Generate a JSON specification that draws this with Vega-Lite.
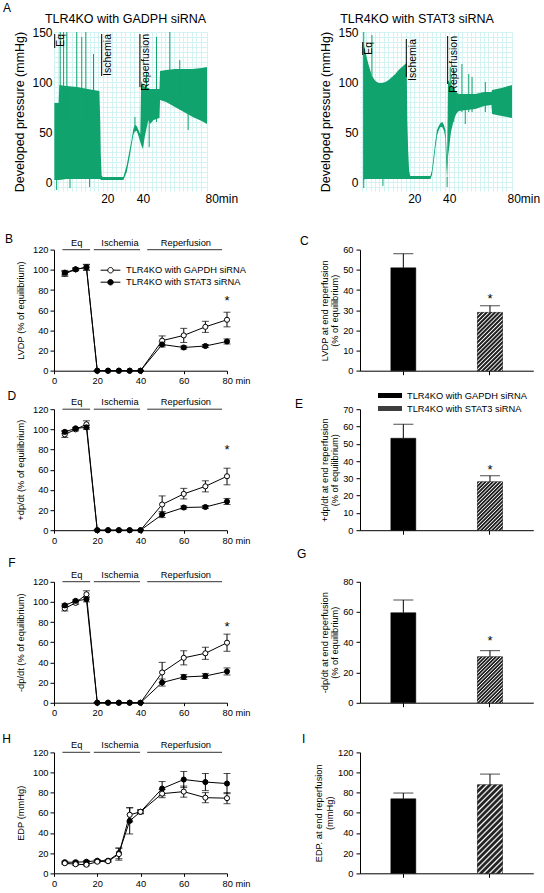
{
"$schema":"https://vega.github.io/schema/vega-lite/v6.json",
"padding":{"left":2,"top":2,"right":0,"bottom":0},
"title":{"text":"A","dx":-51,"dy":6.5},
"resolve":{"scale":{"fill":"independent"},"legend":{"fill":"independent"}},
"config":{
 "font":"Liberation Sans",
 "view":{"stroke":null},
 "axis":{"domainColor":"black","tickColor":"black","labelColor":"black","titleColor":"black","labelFontSize":9.3,"titleFontSize":9.3,"titleFontWeight":"normal","grid":false,"domainWidth":1,"tickWidth":1,"labelOverlap":false,"labelFlush":false},
 "title":{"fontSize":12,"font":"Liberation Sans","fontWeight":"normal","anchor":"start","frame":"group","color":"black","offset":0},
 "legend":{"labelFontSize":9.3,"labelColor":"black"},
 "text":{"color":"black","fontSize":9.3}
},
"datasets":{
 "traceL":[{"t":-9.8,"lo":2,"hi":79},{"t":-7.4,"lo":2,"hi":79},{"t":-7.0,"lo":2,"hi":97},{"t":-3,"lo":3,"hi":96},{"t":3,"lo":3,"hi":95},{"t":9,"lo":3,"hi":93},{"t":15.5,"lo":3,"hi":91},{"t":16.0,"lo":3,"hi":60},{"t":16.3,"lo":2,"hi":27},{"t":16.8,"lo":2,"hi":6},{"t":17.5,"lo":2,"hi":5},{"t":29,"lo":2,"hi":5},{"t":30.9,"lo":10,"hi":17},{"t":32.5,"lo":25,"hi":32},{"t":33.7,"lo":38,"hi":43},{"t":34.6,"lo":47,"hi":53},{"t":35.5,"lo":51,"hi":57},{"t":36.5,"lo":51,"hi":56},{"t":37.5,"lo":46,"hi":52},{"t":38.5,"lo":40,"hi":48},{"t":39.0,"lo":37,"hi":101},{"t":40,"lo":33,"hi":97},{"t":41,"lo":45,"hi":95},{"t":43,"lo":62,"hi":94},{"t":44,"lo":58,"hi":93},{"t":46,"lo":62,"hi":93},{"t":49.3,"lo":64,"hi":93},{"t":49.6,"lo":82,"hi":111},{"t":53,"lo":80,"hi":112},{"t":58,"lo":75,"hi":113},{"t":63,"lo":70,"hi":113},{"t":68,"lo":65,"hi":113},{"t":73,"lo":61,"hi":114},{"t":76,"lo":58,"hi":115}],
 "spikesL":[{"t":-8.5,"lo":-8,"hi":2},{"t":-6.5,"lo":60,"hi":150},{"t":-4.6,"lo":60,"hi":150},{"t":-2.8,"lo":60,"hi":150},{"t":2.8,"lo":60,"hi":150},{"t":5.6,"lo":60,"hi":145},{"t":7.9,"lo":60,"hi":150},{"t":12.2,"lo":60,"hi":128},{"t":-1,"lo":-6,"hi":3},{"t":10,"lo":-5,"hi":3},{"t":35.5,"lo":50,"hi":65},{"t":42,"lo":60,"hi":110},{"t":47.6,"lo":60,"hi":145},{"t":55.1,"lo":80,"hi":150},{"t":60.7,"lo":80,"hi":122},{"t":65.4,"lo":52,"hi":75},{"t":43.5,"lo":35,"hi":62}],
 "eventsL":[{"event":"Eq","t":-9.6,"top":148,"bottom":134},{"event":"Ischemia","t":16.8,"top":148,"bottom":106},{"event":"Reperfusion","t":38.3,"top":148,"bottom":95}],
 "traceR":[{"t":-9.2,"lo":2,"hi":140},{"t":-8.1,"lo":3,"hi":130},{"t":-6.2,"lo":3,"hi":117},{"t":-4.3,"lo":3,"hi":106},{"t":-2.3,"lo":3,"hi":101},{"t":-0.4,"lo":3,"hi":99},{"t":1.5,"lo":3,"hi":99},{"t":3.4,"lo":3,"hi":100},{"t":5.3,"lo":3,"hi":102},{"t":7.2,"lo":3,"hi":105},{"t":9.1,"lo":3,"hi":108},{"t":11,"lo":3,"hi":112},{"t":12.9,"lo":3,"hi":115},{"t":14.8,"lo":3,"hi":118},{"t":15.6,"lo":3,"hi":119},{"t":16.0,"lo":3,"hi":60},{"t":16.5,"lo":3,"hi":30},{"t":17.0,"lo":3,"hi":12},{"t":17.6,"lo":3,"hi":6},{"t":29.2,"lo":3,"hi":6},{"t":30.1,"lo":7,"hi":12},{"t":31,"lo":18,"hi":25},{"t":32,"lo":33,"hi":40},{"t":33,"lo":46,"hi":52},{"t":34,"lo":52,"hi":56},{"t":35,"lo":55,"hi":59},{"t":36,"lo":55,"hi":60},{"t":37,"lo":51,"hi":57},{"t":37.8,"lo":44,"hi":52},{"t":38.4,"lo":15,"hi":35},{"t":38.8,"lo":2,"hi":20},{"t":39.3,"lo":25,"hi":102},{"t":40,"lo":35,"hi":100},{"t":41,"lo":50,"hi":98},{"t":42.6,"lo":62,"hi":94},{"t":44,"lo":68,"hi":90},{"t":45.4,"lo":71,"hi":88},{"t":50,"lo":72,"hi":88},{"t":55,"lo":73,"hi":88},{"t":60,"lo":76,"hi":90},{"t":64.2,"lo":77,"hi":90},{"t":64.6,"lo":68,"hi":92},{"t":70,"lo":66,"hi":94},{"t":76,"lo":64,"hi":97}],
 "spikesR":[{"t":-9.0,"lo":-6,"hi":150},{"t":-4.3,"lo":90,"hi":147},{"t":2,"lo":-4,"hi":3},{"t":40.6,"lo":60,"hi":115},{"t":42.6,"lo":60,"hi":112},{"t":47.3,"lo":70,"hi":118},{"t":49.2,"lo":58,"hi":75},{"t":51.2,"lo":70,"hi":108},{"t":53.1,"lo":70,"hi":105},{"t":60.7,"lo":70,"hi":100},{"t":38.8,"lo":-5,"hi":5}],
 "eventsR":[{"event":"Eq","t":-9.6,"top":140,"bottom":127},{"event":"Ischemia","t":15.4,"top":143,"bottom":105},{"event":"Reperfusion","t":39.1,"top":146,"bottom":98}],
 "phases":[{"phase":"Eq","start":3.9,"end":16.7,"mid":10.5},{"phase":"Ischemia","start":18.4,"end":39.8,"mid":30.5},{"phase":"Reperfusion","start":43.1,"end":77.7,"mid":61}],
 "lvdp":[
  {"g":"TLR4KO with GAPDH siRNA","t":5,"v":96,"lo":93.5,"hi":98.5},{"g":"TLR4KO with GAPDH siRNA","t":10,"v":100.5,"lo":99,"hi":102},{"g":"TLR4KO with GAPDH siRNA","t":15,"v":102.5,"lo":99.5,"hi":105.5},{"g":"TLR4KO with GAPDH siRNA","t":20,"v":0,"lo":0,"hi":0},{"g":"TLR4KO with GAPDH siRNA","t":25,"v":0,"lo":0,"hi":0},{"g":"TLR4KO with GAPDH siRNA","t":30,"v":0,"lo":0,"hi":0},{"g":"TLR4KO with GAPDH siRNA","t":35,"v":0,"lo":0,"hi":0},{"g":"TLR4KO with GAPDH siRNA","t":40,"v":0,"lo":0,"hi":0},{"g":"TLR4KO with GAPDH siRNA","t":50,"v":29.8,"lo":25,"hi":34.5},{"g":"TLR4KO with GAPDH siRNA","t":60,"v":35,"lo":28,"hi":42},{"g":"TLR4KO with GAPDH siRNA","t":70,"v":43.5,"lo":38,"hi":49},{"g":"TLR4KO with GAPDH siRNA","t":80,"v":50.5,"lo":43.5,"hi":58},
  {"g":"TLR4KO with STAT3 siRNA","t":5,"v":97.2,"lo":95,"hi":99.5},{"g":"TLR4KO with STAT3 siRNA","t":10,"v":100.5,"lo":99.5,"hi":101.5},{"g":"TLR4KO with STAT3 siRNA","t":15,"v":102.5,"lo":100,"hi":105},{"g":"TLR4KO with STAT3 siRNA","t":20,"v":0,"lo":0,"hi":0},{"g":"TLR4KO with STAT3 siRNA","t":25,"v":0,"lo":0,"hi":0},{"g":"TLR4KO with STAT3 siRNA","t":30,"v":0,"lo":0,"hi":0},{"g":"TLR4KO with STAT3 siRNA","t":35,"v":0,"lo":0,"hi":0},{"g":"TLR4KO with STAT3 siRNA","t":40,"v":0,"lo":0,"hi":0},{"g":"TLR4KO with STAT3 siRNA","t":50,"v":26,"lo":23.5,"hi":28.5},{"g":"TLR4KO with STAT3 siRNA","t":60,"v":23,"lo":21.5,"hi":24.5},{"g":"TLR4KO with STAT3 siRNA","t":70,"v":24.5,"lo":23,"hi":26},{"g":"TLR4KO with STAT3 siRNA","t":80,"v":29,"lo":26.5,"hi":31.5}],
 "pdpdt":[
  {"g":"TLR4KO with GAPDH siRNA","t":5,"v":95,"lo":92,"hi":98},{"g":"TLR4KO with GAPDH siRNA","t":10,"v":100,"lo":98.5,"hi":101.5},{"g":"TLR4KO with GAPDH siRNA","t":15,"v":105,"lo":101.5,"hi":108.5},{"g":"TLR4KO with GAPDH siRNA","t":20,"v":0,"lo":0,"hi":0},{"g":"TLR4KO with GAPDH siRNA","t":25,"v":0,"lo":0,"hi":0},{"g":"TLR4KO with GAPDH siRNA","t":30,"v":0,"lo":0,"hi":0},{"g":"TLR4KO with GAPDH siRNA","t":35,"v":0,"lo":0,"hi":0},{"g":"TLR4KO with GAPDH siRNA","t":40,"v":0,"lo":0,"hi":0},{"g":"TLR4KO with GAPDH siRNA","t":50,"v":25.5,"lo":17,"hi":34},{"g":"TLR4KO with GAPDH siRNA","t":60,"v":36,"lo":31,"hi":41.5},{"g":"TLR4KO with GAPDH siRNA","t":70,"v":43.5,"lo":38,"hi":49},{"g":"TLR4KO with GAPDH siRNA","t":80,"v":53.5,"lo":45,"hi":61.5},
  {"g":"TLR4KO with STAT3 siRNA","t":5,"v":97.5,"lo":96,"hi":99},{"g":"TLR4KO with STAT3 siRNA","t":10,"v":101,"lo":100,"hi":102},{"g":"TLR4KO with STAT3 siRNA","t":15,"v":102,"lo":100,"hi":104},{"g":"TLR4KO with STAT3 siRNA","t":20,"v":0,"lo":0,"hi":0},{"g":"TLR4KO with STAT3 siRNA","t":25,"v":0,"lo":0,"hi":0},{"g":"TLR4KO with STAT3 siRNA","t":30,"v":0,"lo":0,"hi":0},{"g":"TLR4KO with STAT3 siRNA","t":35,"v":0,"lo":0,"hi":0},{"g":"TLR4KO with STAT3 siRNA","t":40,"v":0,"lo":0,"hi":0},{"g":"TLR4KO with STAT3 siRNA","t":50,"v":15.5,"lo":12.5,"hi":18.5},{"g":"TLR4KO with STAT3 siRNA","t":60,"v":22.5,"lo":21,"hi":24},{"g":"TLR4KO with STAT3 siRNA","t":70,"v":23,"lo":21.5,"hi":24.5},{"g":"TLR4KO with STAT3 siRNA","t":80,"v":28.5,"lo":25.5,"hi":31.5}],
 "mdpdt":[
  {"g":"TLR4KO with GAPDH siRNA","t":5,"v":93.5,"lo":91,"hi":96},{"g":"TLR4KO with GAPDH siRNA","t":10,"v":99,"lo":97.5,"hi":100.5},{"g":"TLR4KO with GAPDH siRNA","t":15,"v":107.5,"lo":104,"hi":111},{"g":"TLR4KO with GAPDH siRNA","t":20,"v":0,"lo":0,"hi":0},{"g":"TLR4KO with GAPDH siRNA","t":25,"v":0,"lo":0,"hi":0},{"g":"TLR4KO with GAPDH siRNA","t":30,"v":0,"lo":0,"hi":0},{"g":"TLR4KO with GAPDH siRNA","t":35,"v":0,"lo":0,"hi":0},{"g":"TLR4KO with GAPDH siRNA","t":40,"v":0,"lo":0,"hi":0},{"g":"TLR4KO with GAPDH siRNA","t":50,"v":30,"lo":20,"hi":40},{"g":"TLR4KO with GAPDH siRNA","t":60,"v":44.5,"lo":37.5,"hi":51.5},{"g":"TLR4KO with GAPDH siRNA","t":70,"v":49,"lo":43,"hi":55},{"g":"TLR4KO with GAPDH siRNA","t":80,"v":59.5,"lo":51,"hi":68},
  {"g":"TLR4KO with STAT3 siRNA","t":5,"v":96.5,"lo":95,"hi":98},{"g":"TLR4KO with STAT3 siRNA","t":10,"v":101,"lo":100,"hi":102},{"g":"TLR4KO with STAT3 siRNA","t":15,"v":102.5,"lo":100,"hi":105},{"g":"TLR4KO with STAT3 siRNA","t":20,"v":0,"lo":0,"hi":0},{"g":"TLR4KO with STAT3 siRNA","t":25,"v":0,"lo":0,"hi":0},{"g":"TLR4KO with STAT3 siRNA","t":30,"v":0,"lo":0,"hi":0},{"g":"TLR4KO with STAT3 siRNA","t":35,"v":0,"lo":0,"hi":0},{"g":"TLR4KO with STAT3 siRNA","t":40,"v":0,"lo":0,"hi":0},{"g":"TLR4KO with STAT3 siRNA","t":50,"v":20,"lo":16.5,"hi":23.5},{"g":"TLR4KO with STAT3 siRNA","t":60,"v":25.5,"lo":23,"hi":28},{"g":"TLR4KO with STAT3 siRNA","t":70,"v":26.5,"lo":24,"hi":29},{"g":"TLR4KO with STAT3 siRNA","t":80,"v":31,"lo":27.5,"hi":34.5}],
 "edp":[
  {"g":"TLR4KO with STAT3 siRNA","t":5,"v":11,"lo":10,"hi":12},{"g":"TLR4KO with STAT3 siRNA","t":10,"v":11,"lo":10,"hi":12},{"g":"TLR4KO with STAT3 siRNA","t":15,"v":11.5,"lo":10.5,"hi":12.5},{"g":"TLR4KO with STAT3 siRNA","t":20,"v":12.5,"lo":11.5,"hi":13.5},{"g":"TLR4KO with STAT3 siRNA","t":25,"v":12.5,"lo":11.5,"hi":13.5},{"g":"TLR4KO with STAT3 siRNA","t":30,"v":20,"lo":14.5,"hi":25},{"g":"TLR4KO with STAT3 siRNA","t":35,"v":52,"lo":39,"hi":65},{"g":"TLR4KO with STAT3 siRNA","t":40,"v":61,"lo":59.5,"hi":62.5},{"g":"TLR4KO with STAT3 siRNA","t":50,"v":84,"lo":77,"hi":91},{"g":"TLR4KO with STAT3 siRNA","t":60,"v":93,"lo":85,"hi":101},{"g":"TLR4KO with STAT3 siRNA","t":70,"v":90.5,"lo":82,"hi":99},{"g":"TLR4KO with STAT3 siRNA","t":80,"v":89,"lo":79,"hi":99},
  {"g":"TLR4KO with GAPDH siRNA","t":5,"v":10,"lo":9,"hi":11},{"g":"TLR4KO with GAPDH siRNA","t":10,"v":9,"lo":8,"hi":10},{"g":"TLR4KO with GAPDH siRNA","t":15,"v":8.5,"lo":7.5,"hi":9.5},{"g":"TLR4KO with GAPDH siRNA","t":20,"v":11.5,"lo":10.5,"hi":12.5},{"g":"TLR4KO with GAPDH siRNA","t":25,"v":12,"lo":11,"hi":13},{"g":"TLR4KO with GAPDH siRNA","t":30,"v":19,"lo":13,"hi":25},{"g":"TLR4KO with GAPDH siRNA","t":35,"v":58,"lo":51,"hi":65},{"g":"TLR4KO with GAPDH siRNA","t":40,"v":61,"lo":59,"hi":63},{"g":"TLR4KO with GAPDH siRNA","t":50,"v":79,"lo":75,"hi":83},{"g":"TLR4KO with GAPDH siRNA","t":60,"v":81,"lo":75.5,"hi":86.5},{"g":"TLR4KO with GAPDH siRNA","t":70,"v":75,"lo":70,"hi":80},{"g":"TLR4KO with GAPDH siRNA","t":80,"v":74.5,"lo":69,"hi":80}],
 "starB":[{"t":80,"y":72}],
 "starD":[{"t":80,"y":83}],
 "starF":[{"t":80,"y":78}],
 "barC":[{"g":"TLR4KO with GAPDH siRNA","v":51,"hi":58},{"g":"TLR4KO with STAT3 siRNA","v":28.9,"hi":32.2}],
 "barE":[{"g":"TLR4KO with GAPDH siRNA","v":53.2,"hi":61.3},{"g":"TLR4KO with STAT3 siRNA","v":28,"hi":31.5}],
 "barG":[{"g":"TLR4KO with GAPDH siRNA","v":59.5,"hi":67.9},{"g":"TLR4KO with STAT3 siRNA","v":30.4,"hi":34.4}],
 "barI":[{"g":"TLR4KO with GAPDH siRNA","v":73.9,"hi":79.6},{"g":"TLR4KO with STAT3 siRNA","v":87.8,"hi":98.4}],
 "starC":[{"g":"TLR4KO with STAT3 siRNA","y":37}],
 "starE":[{"g":"TLR4KO with STAT3 siRNA","y":36.7}],
 "starG":[{"g":"TLR4KO with STAT3 siRNA","y":43}]
},
"columns":2,
"spacing":{"row":37.6,"column":133},
"bounds":"flush",
"concat":[
  {"width":153,"height":159,
   "title":{"text":"TLR4KO with GADPH siRNA","anchor":"middle","dx":-5,"offset":1,"fontSize":12.5},
   "resolve":{"axis":{"x":"independent","y":"independent"}},
   "layer":[
    {"data":{"name":"traceL"},"mark":{"type":"area","color":"#10a36d","opacity":1},
     "encoding":{
      "x":{"field":"t","type":"quantitative","scale":{"domain":[-10,76],"nice":false,"zero":false},
       "axis":{"values":[20,40,76],"labelExpr":"datum.value == 76 ? '80min' : datum.label","grid":false,"ticks":false,"domain":false,"labelFontSize":12,"labelPadding":2,"labelAlign":{"condition":{"test":"datum.value == 76","value":"left"},"value":"center"},"labelOffset":{"condition":{"test":"datum.value == 76","value":-2},"value":0},"title":null,"orient":"bottom"}},
      "y":{"field":"lo","type":"quantitative","scale":{"domain":[-9,150],"nice":false,"zero":false},
       "axis":{"values":[0,50,100,150],"grid":false,"ticks":false,"domain":false,"labelFontSize":12,"labelPadding":2,"title":"Developed pressure  (mmHg)","titleFontSize":12.5,"titlePadding":5,"orient":"left"}},
      "y2":{"field":"hi"}}},
    {"data":{"name":"spikesL"},"mark":{"type":"rule","color":"#10a36d","strokeWidth":1},
     "encoding":{"x":{"field":"t","type":"quantitative","scale":{"domain":[-10,76],"nice":false,"zero":false},"axis":{"values":[-10,-7.5,-5,-2.5,0,2.5,5,7.5,10,12.5,15,17.5,20,22.5,25,27.5,30,32.5,35,37.5,40,42.5,45,47.5,50,52.5,55,57.5,60,62.5,65,67.5,70,72.5,76],"labels":false,"ticks":false,"domain":false,"grid":true,"gridColor":"#d3f2f2","gridWidth":1,"title":null,"orient":"bottom"}},"y":{"field":"lo","type":"quantitative","scale":{"domain":[-9,150],"nice":false,"zero":false},"axis":{"values":[-5,0,5,10,15,20,25,30,35,40,45,50,55,60,65,70,75,80,85,90,95,100,105,110,115,120,125,130,135,140,145,150],"labels":false,"ticks":false,"domain":false,"grid":true,"gridColor":"#d3f2f2","gridWidth":1,"title":null,"orient":"left"}},"y2":{"field":"hi"}}},
    {"data":{"name":"eventsL"},"mark":{"type":"rule","color":"black","strokeWidth":1},
     "encoding":{"x":{"field":"t","type":"quantitative","scale":{"domain":[-10,76],"nice":false,"zero":false},"axis":null},"y":{"field":"top","type":"quantitative","scale":{"domain":[-9,150],"nice":false,"zero":false},"axis":null},"y2":{"field":"bottom"}}},
    {"data":{"name":"eventsL"},"mark":{"type":"text","angle":270,"align":"right","baseline":"top","fontSize":10.5,"dy":1.5},
     "encoding":{"x":{"field":"t","type":"quantitative","scale":{"domain":[-10,76],"nice":false,"zero":false},"axis":null},"y":{"field":"top","type":"quantitative","scale":{"domain":[-9,150],"nice":false,"zero":false},"axis":null},"text":{"field":"event"}}}
   ]},
  {"width":152,"height":159,
   "title":{"text":"TLR4KO with STAT3 siRNA","anchor":"middle","dx":-19,"offset":1,"fontSize":12.5},
   "resolve":{"axis":{"x":"independent","y":"independent"}},
   "layer":[
    {"data":{"name":"traceR"},"mark":{"type":"area","color":"#10a36d","opacity":1},
     "encoding":{
      "x":{"field":"t","type":"quantitative","scale":{"domain":[-11.15,76],"nice":false,"zero":false},
       "axis":{"values":[20,40,76],"labelExpr":"datum.value == 76 ? '80min' : datum.label","grid":false,"ticks":false,"domain":false,"labelFontSize":12,"labelPadding":2,"labelAlign":{"condition":{"test":"datum.value == 76","value":"left"},"value":"center"},"labelOffset":{"condition":{"test":"datum.value == 76","value":-5},"value":0},"title":null,"orient":"bottom"}},
      "y":{"field":"lo","type":"quantitative","scale":{"domain":[-9,150],"nice":false,"zero":false},
       "axis":{"values":[0,50,100,150],"grid":false,"ticks":false,"domain":false,"labelFontSize":12,"labelPadding":2,"title":"Developed pressure (mmHg)","titleFontSize":12.5,"titlePadding":5,"orient":"left"}},
      "y2":{"field":"hi"}}},
    {"data":{"name":"spikesR"},"mark":{"type":"rule","color":"#10a36d","strokeWidth":1},
     "encoding":{"x":{"field":"t","type":"quantitative","scale":{"domain":[-11.15,76],"nice":false,"zero":false},"axis":{"values":[-10,-7.5,-5,-2.5,0,2.5,5,7.5,10,12.5,15,17.5,20,22.5,25,27.5,30,32.5,35,37.5,40,42.5,45,47.5,50,52.5,55,57.5,60,62.5,65,67.5,70,72.5,76],"labels":false,"ticks":false,"domain":false,"grid":true,"gridColor":"#d3f2f2","gridWidth":1,"title":null,"orient":"bottom"}},"y":{"field":"lo","type":"quantitative","scale":{"domain":[-9,150],"nice":false,"zero":false},"axis":{"values":[-5,0,5,10,15,20,25,30,35,40,45,50,55,60,65,70,75,80,85,90,95,100,105,110,115,120,125,130,135,140,145,150],"labels":false,"ticks":false,"domain":false,"grid":true,"gridColor":"#d3f2f2","gridWidth":1,"title":null,"orient":"left"}},"y2":{"field":"hi"}}},
    {"data":{"name":"eventsR"},"mark":{"type":"rule","color":"black","strokeWidth":1},
     "encoding":{"x":{"field":"t","type":"quantitative","scale":{"domain":[-11.15,76],"nice":false,"zero":false},"axis":null},"y":{"field":"top","type":"quantitative","scale":{"domain":[-9,150],"nice":false,"zero":false},"axis":null},"y2":{"field":"bottom"}}},
    {"data":{"name":"eventsR"},"mark":{"type":"text","angle":270,"align":"right","baseline":"top","fontSize":10.5,"dy":1.5},
     "encoding":{"x":{"field":"t","type":"quantitative","scale":{"domain":[-11.15,76],"nice":false,"zero":false},"axis":null},"y":{"field":"top","type":"quantitative","scale":{"domain":[-9,150],"nice":false,"zero":false},"axis":null},"text":{"field":"event"}}}
   ]},
  {"width":173,"height":142.1,"title":{"text":"B","dx":-49,"dy":21.3},
   "resolve":{"axis":{"x":"independent","y":"independent"}},
   "layer":[
    {"data":{"name":"phases"},"mark":{"type":"rule","color":"#333333","strokeWidth":1},"encoding":{"x":{"field":"start","type":"quantitative","scale":{"domain":[0,80],"nice":false,"zero":false},"axis":null},"x2":{"field":"end"},"y":{"datum":120,"type":"quantitative","scale":{"domain":[0,120],"nice":false,"zero":false,"range":[142.1,21.1]},"axis":null}}},
    {"data":{"name":"phases"},"mark":{"type":"text","baseline":"bottom","dy":-2},"encoding":{"x":{"field":"mid","type":"quantitative","scale":{"domain":[0,80],"nice":false,"zero":false},"axis":null},"y":{"datum":120,"type":"quantitative","scale":{"domain":[0,120],"nice":false,"zero":false,"range":[142.1,21.1]},"axis":null},"text":{"field":"phase"}}},
    {"data":{"name":"lvdp"},"mark":{"type":"rule","color":"black","strokeWidth":1},"encoding":{"x":{"field":"t","type":"quantitative","scale":{"domain":[0,80],"nice":false,"zero":false},"axis":{"values":[0,20,40,60,80],"title":null,"labelExpr":"datum.value == 80 ? '80 min' : datum.label","labelAlign":{"condition":{"test":"datum.value == 80","value":"left"},"value":"center"},"labelOffset":{"condition":{"test":"datum.value == 80","value":-5},"value":0},"tickSize":3,"labelPadding":3,"orient":"bottom"}},"y":{"field":"lo","type":"quantitative","scale":{"domain":[0,120],"nice":false,"zero":false,"range":[142.1,21.1]},"axis":{"values":[0,20,40,60,80,100,120],"title":"LVDP (% of equilibrium)","titlePadding":7,"tickSize":4,"labelPadding":2,"orient":"left"}},"y2":{"field":"hi"}}},
    {"data":{"name":"lvdp"},"mark":{"type":"tick","orient":"horizontal","size":7,"thickness":1,"color":"black"},"encoding":{"x":{"field":"t","type":"quantitative","scale":{"domain":[0,80],"nice":false,"zero":false},"axis":null},"y":{"field":"hi","type":"quantitative","scale":{"domain":[0,120],"nice":false,"zero":false,"range":[142.1,21.1]},"axis":null}}},
    {"data":{"name":"lvdp"},"mark":{"type":"tick","orient":"horizontal","size":7,"thickness":1,"color":"black"},"encoding":{"x":{"field":"t","type":"quantitative","scale":{"domain":[0,80],"nice":false,"zero":false},"axis":null},"y":{"field":"lo","type":"quantitative","scale":{"domain":[0,120],"nice":false,"zero":false,"range":[142.1,21.1]},"axis":null}}},
    {"data":{"name":"lvdp"},"mark":{"type":"line","color":"black","strokeWidth":1},"encoding":{"x":{"field":"t","type":"quantitative","scale":{"domain":[0,80],"nice":false,"zero":false},"axis":null},"y":{"field":"v","type":"quantitative","scale":{"domain":[0,120],"nice":false,"zero":false,"range":[142.1,21.1]},"axis":null},"detail":{"field":"g","type":"nominal"}}},
    {"data":{"name":"lvdp"},"mark":{"type":"point","shape":"circle","size":26,"filled":true,"stroke":"black","strokeWidth":1,"opacity":1},"encoding":{"x":{"field":"t","type":"quantitative","scale":{"domain":[0,80],"nice":false,"zero":false},"axis":null},"y":{"field":"v","type":"quantitative","scale":{"domain":[0,120],"nice":false,"zero":false,"range":[142.1,21.1]},"axis":null},"fill":{"field":"g","type":"nominal","scale":{"domain":["TLR4KO with GAPDH siRNA","TLR4KO with STAT3 siRNA"],"range":["#ffffff","#000000"]},"legend":{"orient":"none","legendX":50.5,"legendY":35.6,"title":null,"symbolType":"M-1.8,0H-0.5A0.5,0.5 0 1,1 0.5,0A0.5,0.5 0 1,1 -0.5,0M0.5,0H1.8","symbolSize":121,"symbolStrokeColor":"black","symbolStrokeWidth":1,"labelFontSize":9.3,"labelColor":"black","labelOffset":9.5,"rowPadding":0,"padding":0}}}},
    {"data":{"name":"starB"},"mark":{"type":"text","text":"*","fontSize":13,"baseline":"middle","dy":3},"encoding":{"x":{"field":"t","type":"quantitative","scale":{"domain":[0,80],"nice":false,"zero":false},"axis":null},"y":{"field":"y","type":"quantitative","scale":{"domain":[0,120],"nice":false,"zero":false,"range":[142.1,21.1]},"axis":null}}}
   ]},
  {"width":173.3,"height":142.1,"title":{"text":"C","dx":-60,"dy":23.3},
   "resolve":{"axis":{"x":"independent","y":"independent"}},
   "layer":[
    {"data":{"name":"barC"},"mark":{"type":"bar","width":25,"stroke":"black","strokeWidth":0.5},"encoding":{"x":{"field":"g","type":"nominal","scale":{"domain":["TLR4KO with GAPDH siRNA","TLR4KO with STAT3 siRNA"],"paddingInner":0,"paddingOuter":0},"axis":{"title":null,"labels":false,"ticks":true,"tickSize":4,"domain":true,"orient":"bottom"}},"y":{"field":"v","type":"quantitative","scale":{"domain":[0,60],"nice":false,"zero":true,"range":[142.1,21.1]},"axis":{"values":[0,10,20,30,40,50,60],"title":["LVDP at end reperfusion","(% of equilibrium)"],"titlePadding":3,"titleLineHeight":10.5,"tickSize":4,"labelPadding":3,"orient":"left"}},"fill":{"field":"g","type":"nominal","scale":{"domain":["TLR4KO with GAPDH siRNA","TLR4KO with STAT3 siRNA"],"range":["#000000","#3d3d3d"]},"legend":null}}},
    {"data":{"name":"barC"},"transform":[{"filter":"datum.g == 'TLR4KO with STAT3 siRNA'"}],"mark":{"type":"bar","width":25,"strokeWidth":0,"fill":{"gradient":"linear","x1":0,"y1":0,"x2":0.5175,"y2":1.2068,"stops":[{"offset":0,"color":"#222"},{"offset":0.02,"color":"#222"},{"offset":0.035,"color":"#fff"},{"offset":0.05,"color":"#222"},{"offset":0.07,"color":"#222"},{"offset":0.085,"color":"#fff"},{"offset":0.1,"color":"#222"},{"offset":0.12,"color":"#222"},{"offset":0.135,"color":"#fff"},{"offset":0.15,"color":"#222"},{"offset":0.17,"color":"#222"},{"offset":0.185,"color":"#fff"},{"offset":0.2,"color":"#222"},{"offset":0.22,"color":"#222"},{"offset":0.235,"color":"#fff"},{"offset":0.25,"color":"#222"},{"offset":0.27,"color":"#222"},{"offset":0.285,"color":"#fff"},{"offset":0.3,"color":"#222"},{"offset":0.32,"color":"#222"},{"offset":0.335,"color":"#fff"},{"offset":0.35,"color":"#222"},{"offset":0.37,"color":"#222"},{"offset":0.385,"color":"#fff"},{"offset":0.4,"color":"#222"},{"offset":0.42,"color":"#222"},{"offset":0.435,"color":"#fff"},{"offset":0.45,"color":"#222"},{"offset":0.47,"color":"#222"},{"offset":0.485,"color":"#fff"},{"offset":0.5,"color":"#222"},{"offset":0.52,"color":"#222"},{"offset":0.535,"color":"#fff"},{"offset":0.55,"color":"#222"},{"offset":0.57,"color":"#222"},{"offset":0.585,"color":"#fff"},{"offset":0.6,"color":"#222"},{"offset":0.62,"color":"#222"},{"offset":0.635,"color":"#fff"},{"offset":0.65,"color":"#222"},{"offset":0.67,"color":"#222"},{"offset":0.685,"color":"#fff"},{"offset":0.7,"color":"#222"},{"offset":0.72,"color":"#222"},{"offset":0.735,"color":"#fff"},{"offset":0.75,"color":"#222"},{"offset":0.77,"color":"#222"},{"offset":0.785,"color":"#fff"},{"offset":0.8,"color":"#222"},{"offset":0.82,"color":"#222"},{"offset":0.835,"color":"#fff"},{"offset":0.85,"color":"#222"},{"offset":0.87,"color":"#222"},{"offset":0.885,"color":"#fff"},{"offset":0.9,"color":"#222"},{"offset":0.92,"color":"#222"},{"offset":0.935,"color":"#fff"},{"offset":0.95,"color":"#222"},{"offset":0.97,"color":"#222"},{"offset":0.985,"color":"#fff"},{"offset":1,"color":"#222"}]}},"encoding":{"x":{"field":"g","type":"nominal","scale":{"domain":["TLR4KO with GAPDH siRNA","TLR4KO with STAT3 siRNA"],"paddingInner":0,"paddingOuter":0},"axis":null},"y":{"field":"v","type":"quantitative","scale":{"domain":[0,60],"nice":false,"zero":true,"range":[142.1,21.1]},"axis":null}}},
    {"data":{"name":"barC"},"mark":{"type":"rule","color":"black","strokeWidth":1},"encoding":{"x":{"field":"g","type":"nominal","scale":{"domain":["TLR4KO with GAPDH siRNA","TLR4KO with STAT3 siRNA"],"paddingInner":0,"paddingOuter":0},"axis":null},"y":{"field":"v","type":"quantitative","scale":{"domain":[0,60],"nice":false,"zero":true,"range":[142.1,21.1]},"axis":null},"y2":{"field":"hi"}}},
    {"data":{"name":"barC"},"mark":{"type":"tick","orient":"horizontal","size":20,"thickness":1,"color":"black"},"encoding":{"x":{"field":"g","type":"nominal","scale":{"domain":["TLR4KO with GAPDH siRNA","TLR4KO with STAT3 siRNA"],"paddingInner":0,"paddingOuter":0},"axis":null},"y":{"field":"hi","type":"quantitative","scale":{"domain":[0,60],"nice":false,"zero":true,"range":[142.1,21.1]},"axis":null}}},
    {"data":{"name":"starC"},"mark":{"type":"text","text":"*","fontSize":13,"baseline":"middle","dy":3},"encoding":{"x":{"field":"g","type":"nominal","scale":{"domain":["TLR4KO with GAPDH siRNA","TLR4KO with STAT3 siRNA"],"paddingInner":0,"paddingOuter":0},"axis":null},"y":{"field":"y","type":"quantitative","scale":{"domain":[0,60],"nice":false,"zero":true,"range":[142.1,21.1]},"axis":null}}}
   ]},
  {"width":173,"height":121,"title":{"text":"D","dx":-46.5,"dy":8.7},
   "resolve":{"axis":{"x":"independent","y":"independent"}},
   "layer":[
    {"data":{"name":"phases"},"mark":{"type":"rule","color":"#333333","strokeWidth":1},"encoding":{"x":{"field":"start","type":"quantitative","scale":{"domain":[0,80],"nice":false,"zero":false},"axis":null},"x2":{"field":"end"},"y":{"datum":120,"type":"quantitative","scale":{"domain":[0,120],"nice":false,"zero":false},"axis":null}}},
    {"data":{"name":"phases"},"mark":{"type":"text","baseline":"bottom","dy":-2},"encoding":{"x":{"field":"mid","type":"quantitative","scale":{"domain":[0,80],"nice":false,"zero":false},"axis":null},"y":{"datum":120,"type":"quantitative","scale":{"domain":[0,120],"nice":false,"zero":false},"axis":null},"text":{"field":"phase"}}},
    {"data":{"name":"pdpdt"},"mark":{"type":"rule","color":"black","strokeWidth":1},"encoding":{"x":{"field":"t","type":"quantitative","scale":{"domain":[0,80],"nice":false,"zero":false},"axis":{"values":[0,20,40,60,80],"title":null,"labelExpr":"datum.value == 80 ? '80 min' : datum.label","labelAlign":{"condition":{"test":"datum.value == 80","value":"left"},"value":"center"},"labelOffset":{"condition":{"test":"datum.value == 80","value":-5},"value":0},"tickSize":3,"labelPadding":3,"orient":"bottom"}},"y":{"field":"lo","type":"quantitative","scale":{"domain":[0,120],"nice":false,"zero":false},"axis":{"values":[0,20,40,60,80,100,120],"title":"+dp/dt (% of equilibrium)","titlePadding":7,"tickSize":4,"labelPadding":2,"orient":"left"}},"y2":{"field":"hi"}}},
    {"data":{"name":"pdpdt"},"mark":{"type":"tick","orient":"horizontal","size":7,"thickness":1,"color":"black"},"encoding":{"x":{"field":"t","type":"quantitative","scale":{"domain":[0,80],"nice":false,"zero":false},"axis":null},"y":{"field":"hi","type":"quantitative","scale":{"domain":[0,120],"nice":false,"zero":false},"axis":null}}},
    {"data":{"name":"pdpdt"},"mark":{"type":"tick","orient":"horizontal","size":7,"thickness":1,"color":"black"},"encoding":{"x":{"field":"t","type":"quantitative","scale":{"domain":[0,80],"nice":false,"zero":false},"axis":null},"y":{"field":"lo","type":"quantitative","scale":{"domain":[0,120],"nice":false,"zero":false},"axis":null}}},
    {"data":{"name":"pdpdt"},"mark":{"type":"line","color":"black","strokeWidth":1},"encoding":{"x":{"field":"t","type":"quantitative","scale":{"domain":[0,80],"nice":false,"zero":false},"axis":null},"y":{"field":"v","type":"quantitative","scale":{"domain":[0,120],"nice":false,"zero":false},"axis":null},"detail":{"field":"g","type":"nominal"}}},
    {"data":{"name":"pdpdt"},"mark":{"type":"point","shape":"circle","size":26,"filled":true,"stroke":"black","strokeWidth":1,"opacity":1},"encoding":{"x":{"field":"t","type":"quantitative","scale":{"domain":[0,80],"nice":false,"zero":false},"axis":null},"y":{"field":"v","type":"quantitative","scale":{"domain":[0,120],"nice":false,"zero":false},"axis":null},"fill":{"field":"g","type":"nominal","scale":{"domain":["TLR4KO with GAPDH siRNA","TLR4KO with STAT3 siRNA"],"range":["#ffffff","#000000"]},"legend":null}}},
    {"data":{"name":"starD"},"mark":{"type":"text","text":"*","fontSize":13,"baseline":"middle","dy":3},"encoding":{"x":{"field":"t","type":"quantitative","scale":{"domain":[0,80],"nice":false,"zero":false},"axis":null},"y":{"field":"y","type":"quantitative","scale":{"domain":[0,120],"nice":false,"zero":false},"axis":null}}}
   ]},
  {"width":173.3,"height":121,"title":{"text":"E","dx":-65,"dy":25.5},
   "resolve":{"axis":{"x":"independent","y":"independent"}},
   "layer":[
    {"data":{"name":"barE"},"mark":{"type":"bar","width":25,"stroke":"black","strokeWidth":0.5},"encoding":{"x":{"field":"g","type":"nominal","scale":{"domain":["TLR4KO with GAPDH siRNA","TLR4KO with STAT3 siRNA"],"paddingInner":0,"paddingOuter":0},"axis":{"title":null,"labels":false,"ticks":true,"tickSize":4,"domain":true,"orient":"bottom"}},"y":{"field":"v","type":"quantitative","scale":{"domain":[0,70],"nice":false,"zero":true},"axis":{"values":[0,10,20,30,40,50,60,70],"title":["+dp/dt at end reperfusion","(% of equilibrium)"],"titlePadding":3,"titleLineHeight":10.5,"tickSize":4,"labelPadding":3,"orient":"left"}},"fill":{"field":"g","type":"nominal","scale":{"domain":["TLR4KO with GAPDH siRNA","TLR4KO with STAT3 siRNA"],"range":["#000000","#3d3d3d"]},"legend":{"orient":"none","legendX":18,"legendY":-20,"title":null,"symbolType":"M-1,-0.2H1V0.2H-1Z","symbolSize":576,"symbolStrokeWidth":0,"labelFontSize":9.3,"labelColor":"black","labelOffset":5,"rowPadding":0,"clipHeight":12.6,"padding":0,"encode":{"symbols":{"update":{"fill":[{"test":"datum.value === 'TLR4KO with STAT3 siRNA'","value":{"gradient":"linear","x1":0,"y1":0,"x2":1.1538,"y2":0.2308,"stops":[{"offset":0,"color":"#222"},{"offset":0.057,"color":"#222"},{"offset":0.1,"color":"#fff"},{"offset":0.143,"color":"#222"},{"offset":0.2,"color":"#222"},{"offset":0.243,"color":"#fff"},{"offset":0.286,"color":"#222"},{"offset":0.343,"color":"#222"},{"offset":0.386,"color":"#fff"},{"offset":0.429,"color":"#222"},{"offset":0.486,"color":"#222"},{"offset":0.529,"color":"#fff"},{"offset":0.571,"color":"#222"},{"offset":0.629,"color":"#222"},{"offset":0.671,"color":"#fff"},{"offset":0.714,"color":"#222"},{"offset":0.771,"color":"#222"},{"offset":0.814,"color":"#fff"},{"offset":0.857,"color":"#222"},{"offset":0.914,"color":"#222"},{"offset":0.957,"color":"#fff"},{"offset":1,"color":"#222"}]}},{"value":"#000000"}]}}}}}}},
    {"data":{"name":"barE"},"transform":[{"filter":"datum.g == 'TLR4KO with STAT3 siRNA'"}],"mark":{"type":"bar","width":25,"strokeWidth":0,"fill":{"gradient":"linear","x1":0,"y1":0,"x2":0.6195,"y2":1.1969,"stops":[{"offset":0,"color":"#222"},{"offset":0.02,"color":"#222"},{"offset":0.035,"color":"#fff"},{"offset":0.05,"color":"#222"},{"offset":0.07,"color":"#222"},{"offset":0.085,"color":"#fff"},{"offset":0.1,"color":"#222"},{"offset":0.12,"color":"#222"},{"offset":0.135,"color":"#fff"},{"offset":0.15,"color":"#222"},{"offset":0.17,"color":"#222"},{"offset":0.185,"color":"#fff"},{"offset":0.2,"color":"#222"},{"offset":0.22,"color":"#222"},{"offset":0.235,"color":"#fff"},{"offset":0.25,"color":"#222"},{"offset":0.27,"color":"#222"},{"offset":0.285,"color":"#fff"},{"offset":0.3,"color":"#222"},{"offset":0.32,"color":"#222"},{"offset":0.335,"color":"#fff"},{"offset":0.35,"color":"#222"},{"offset":0.37,"color":"#222"},{"offset":0.385,"color":"#fff"},{"offset":0.4,"color":"#222"},{"offset":0.42,"color":"#222"},{"offset":0.435,"color":"#fff"},{"offset":0.45,"color":"#222"},{"offset":0.47,"color":"#222"},{"offset":0.485,"color":"#fff"},{"offset":0.5,"color":"#222"},{"offset":0.52,"color":"#222"},{"offset":0.535,"color":"#fff"},{"offset":0.55,"color":"#222"},{"offset":0.57,"color":"#222"},{"offset":0.585,"color":"#fff"},{"offset":0.6,"color":"#222"},{"offset":0.62,"color":"#222"},{"offset":0.635,"color":"#fff"},{"offset":0.65,"color":"#222"},{"offset":0.67,"color":"#222"},{"offset":0.685,"color":"#fff"},{"offset":0.7,"color":"#222"},{"offset":0.72,"color":"#222"},{"offset":0.735,"color":"#fff"},{"offset":0.75,"color":"#222"},{"offset":0.77,"color":"#222"},{"offset":0.785,"color":"#fff"},{"offset":0.8,"color":"#222"},{"offset":0.82,"color":"#222"},{"offset":0.835,"color":"#fff"},{"offset":0.85,"color":"#222"},{"offset":0.87,"color":"#222"},{"offset":0.885,"color":"#fff"},{"offset":0.9,"color":"#222"},{"offset":0.92,"color":"#222"},{"offset":0.935,"color":"#fff"},{"offset":0.95,"color":"#222"},{"offset":0.97,"color":"#222"},{"offset":0.985,"color":"#fff"},{"offset":1,"color":"#222"}]}},"encoding":{"x":{"field":"g","type":"nominal","scale":{"domain":["TLR4KO with GAPDH siRNA","TLR4KO with STAT3 siRNA"],"paddingInner":0,"paddingOuter":0},"axis":null},"y":{"field":"v","type":"quantitative","scale":{"domain":[0,70],"nice":false,"zero":true},"axis":null}}},
    {"data":{"name":"barE"},"mark":{"type":"rule","color":"black","strokeWidth":1},"encoding":{"x":{"field":"g","type":"nominal","scale":{"domain":["TLR4KO with GAPDH siRNA","TLR4KO with STAT3 siRNA"],"paddingInner":0,"paddingOuter":0},"axis":null},"y":{"field":"v","type":"quantitative","scale":{"domain":[0,70],"nice":false,"zero":true},"axis":null},"y2":{"field":"hi"}}},
    {"data":{"name":"barE"},"mark":{"type":"tick","orient":"horizontal","size":20,"thickness":1,"color":"black"},"encoding":{"x":{"field":"g","type":"nominal","scale":{"domain":["TLR4KO with GAPDH siRNA","TLR4KO with STAT3 siRNA"],"paddingInner":0,"paddingOuter":0},"axis":null},"y":{"field":"hi","type":"quantitative","scale":{"domain":[0,70],"nice":false,"zero":true},"axis":null}}},
    {"data":{"name":"starE"},"mark":{"type":"text","text":"*","fontSize":13,"baseline":"middle","dy":3},"encoding":{"x":{"field":"g","type":"nominal","scale":{"domain":["TLR4KO with GAPDH siRNA","TLR4KO with STAT3 siRNA"],"paddingInner":0,"paddingOuter":0},"axis":null},"y":{"field":"y","type":"quantitative","scale":{"domain":[0,70],"nice":false,"zero":true},"axis":null}}}
   ]},
  {"width":173,"height":134.9,"title":{"text":"F","dx":-45.7,"dy":6},
   "resolve":{"axis":{"x":"independent","y":"independent"}},
   "layer":[
    {"data":{"name":"phases"},"mark":{"type":"rule","color":"#333333","strokeWidth":1},"encoding":{"x":{"field":"start","type":"quantitative","scale":{"domain":[0,80],"nice":false,"zero":false},"axis":null},"x2":{"field":"end"},"y":{"datum":120,"type":"quantitative","scale":{"domain":[0,120],"nice":false,"zero":false,"range":[134.9,13.9]},"axis":null}}},
    {"data":{"name":"phases"},"mark":{"type":"text","baseline":"bottom","dy":-2},"encoding":{"x":{"field":"mid","type":"quantitative","scale":{"domain":[0,80],"nice":false,"zero":false},"axis":null},"y":{"datum":120,"type":"quantitative","scale":{"domain":[0,120],"nice":false,"zero":false,"range":[134.9,13.9]},"axis":null},"text":{"field":"phase"}}},
    {"data":{"name":"mdpdt"},"mark":{"type":"rule","color":"black","strokeWidth":1},"encoding":{"x":{"field":"t","type":"quantitative","scale":{"domain":[0,80],"nice":false,"zero":false},"axis":{"values":[0,20,40,60,80],"title":null,"labelExpr":"datum.value == 80 ? '80 min' : datum.label","labelAlign":{"condition":{"test":"datum.value == 80","value":"left"},"value":"center"},"labelOffset":{"condition":{"test":"datum.value == 80","value":-5},"value":0},"tickSize":3,"labelPadding":3,"orient":"bottom"}},"y":{"field":"lo","type":"quantitative","scale":{"domain":[0,120],"nice":false,"zero":false,"range":[134.9,13.9]},"axis":{"values":[0,20,40,60,80,100,120],"title":"-dp/dt (% of equilibrium)","titlePadding":7,"tickSize":4,"labelPadding":2,"orient":"left"}},"y2":{"field":"hi"}}},
    {"data":{"name":"mdpdt"},"mark":{"type":"tick","orient":"horizontal","size":7,"thickness":1,"color":"black"},"encoding":{"x":{"field":"t","type":"quantitative","scale":{"domain":[0,80],"nice":false,"zero":false},"axis":null},"y":{"field":"hi","type":"quantitative","scale":{"domain":[0,120],"nice":false,"zero":false,"range":[134.9,13.9]},"axis":null}}},
    {"data":{"name":"mdpdt"},"mark":{"type":"tick","orient":"horizontal","size":7,"thickness":1,"color":"black"},"encoding":{"x":{"field":"t","type":"quantitative","scale":{"domain":[0,80],"nice":false,"zero":false},"axis":null},"y":{"field":"lo","type":"quantitative","scale":{"domain":[0,120],"nice":false,"zero":false,"range":[134.9,13.9]},"axis":null}}},
    {"data":{"name":"mdpdt"},"mark":{"type":"line","color":"black","strokeWidth":1},"encoding":{"x":{"field":"t","type":"quantitative","scale":{"domain":[0,80],"nice":false,"zero":false},"axis":null},"y":{"field":"v","type":"quantitative","scale":{"domain":[0,120],"nice":false,"zero":false,"range":[134.9,13.9]},"axis":null},"detail":{"field":"g","type":"nominal"}}},
    {"data":{"name":"mdpdt"},"mark":{"type":"point","shape":"circle","size":26,"filled":true,"stroke":"black","strokeWidth":1,"opacity":1},"encoding":{"x":{"field":"t","type":"quantitative","scale":{"domain":[0,80],"nice":false,"zero":false},"axis":null},"y":{"field":"v","type":"quantitative","scale":{"domain":[0,120],"nice":false,"zero":false,"range":[134.9,13.9]},"axis":null},"fill":{"field":"g","type":"nominal","scale":{"domain":["TLR4KO with GAPDH siRNA","TLR4KO with STAT3 siRNA"],"range":["#ffffff","#000000"]},"legend":null}}},
    {"data":{"name":"starF"},"mark":{"type":"text","text":"*","fontSize":13,"baseline":"middle","dy":3},"encoding":{"x":{"field":"t","type":"quantitative","scale":{"domain":[0,80],"nice":false,"zero":false},"axis":null},"y":{"field":"y","type":"quantitative","scale":{"domain":[0,120],"nice":false,"zero":false,"range":[134.9,13.9]},"axis":null}}}
   ]},
  {"width":173.3,"height":134.9,"title":{"text":"G","dx":-63,"dy":-3},
   "resolve":{"axis":{"x":"independent","y":"independent"}},
   "layer":[
    {"data":{"name":"barG"},"mark":{"type":"bar","width":25,"stroke":"black","strokeWidth":0.5},"encoding":{"x":{"field":"g","type":"nominal","scale":{"domain":["TLR4KO with GAPDH siRNA","TLR4KO with STAT3 siRNA"],"paddingInner":0,"paddingOuter":0},"axis":{"title":null,"labels":false,"ticks":true,"tickSize":4,"domain":true,"orient":"bottom"}},"y":{"field":"v","type":"quantitative","scale":{"domain":[0,80],"nice":false,"zero":true,"range":[134.9,13.9]},"axis":{"values":[0,20,40,60,80],"title":["-dp/dt at end reperfusion","(% of equilibrium)"],"titlePadding":3,"titleLineHeight":10.5,"tickSize":4,"labelPadding":3,"orient":"left"}},"fill":{"field":"g","type":"nominal","scale":{"domain":["TLR4KO with GAPDH siRNA","TLR4KO with STAT3 siRNA"],"range":["#000000","#3d3d3d"]},"legend":null}}},
    {"data":{"name":"barG"},"transform":[{"filter":"datum.g == 'TLR4KO with STAT3 siRNA'"}],"mark":{"type":"bar","width":25,"strokeWidth":0,"fill":{"gradient":"linear","x1":0,"y1":0,"x2":0.6451,"y2":1.1921,"stops":[{"offset":0,"color":"#222"},{"offset":0.02,"color":"#222"},{"offset":0.035,"color":"#fff"},{"offset":0.05,"color":"#222"},{"offset":0.07,"color":"#222"},{"offset":0.085,"color":"#fff"},{"offset":0.1,"color":"#222"},{"offset":0.12,"color":"#222"},{"offset":0.135,"color":"#fff"},{"offset":0.15,"color":"#222"},{"offset":0.17,"color":"#222"},{"offset":0.185,"color":"#fff"},{"offset":0.2,"color":"#222"},{"offset":0.22,"color":"#222"},{"offset":0.235,"color":"#fff"},{"offset":0.25,"color":"#222"},{"offset":0.27,"color":"#222"},{"offset":0.285,"color":"#fff"},{"offset":0.3,"color":"#222"},{"offset":0.32,"color":"#222"},{"offset":0.335,"color":"#fff"},{"offset":0.35,"color":"#222"},{"offset":0.37,"color":"#222"},{"offset":0.385,"color":"#fff"},{"offset":0.4,"color":"#222"},{"offset":0.42,"color":"#222"},{"offset":0.435,"color":"#fff"},{"offset":0.45,"color":"#222"},{"offset":0.47,"color":"#222"},{"offset":0.485,"color":"#fff"},{"offset":0.5,"color":"#222"},{"offset":0.52,"color":"#222"},{"offset":0.535,"color":"#fff"},{"offset":0.55,"color":"#222"},{"offset":0.57,"color":"#222"},{"offset":0.585,"color":"#fff"},{"offset":0.6,"color":"#222"},{"offset":0.62,"color":"#222"},{"offset":0.635,"color":"#fff"},{"offset":0.65,"color":"#222"},{"offset":0.67,"color":"#222"},{"offset":0.685,"color":"#fff"},{"offset":0.7,"color":"#222"},{"offset":0.72,"color":"#222"},{"offset":0.735,"color":"#fff"},{"offset":0.75,"color":"#222"},{"offset":0.77,"color":"#222"},{"offset":0.785,"color":"#fff"},{"offset":0.8,"color":"#222"},{"offset":0.82,"color":"#222"},{"offset":0.835,"color":"#fff"},{"offset":0.85,"color":"#222"},{"offset":0.87,"color":"#222"},{"offset":0.885,"color":"#fff"},{"offset":0.9,"color":"#222"},{"offset":0.92,"color":"#222"},{"offset":0.935,"color":"#fff"},{"offset":0.95,"color":"#222"},{"offset":0.97,"color":"#222"},{"offset":0.985,"color":"#fff"},{"offset":1,"color":"#222"}]}},"encoding":{"x":{"field":"g","type":"nominal","scale":{"domain":["TLR4KO with GAPDH siRNA","TLR4KO with STAT3 siRNA"],"paddingInner":0,"paddingOuter":0},"axis":null},"y":{"field":"v","type":"quantitative","scale":{"domain":[0,80],"nice":false,"zero":true,"range":[134.9,13.9]},"axis":null}}},
    {"data":{"name":"barG"},"mark":{"type":"rule","color":"black","strokeWidth":1},"encoding":{"x":{"field":"g","type":"nominal","scale":{"domain":["TLR4KO with GAPDH siRNA","TLR4KO with STAT3 siRNA"],"paddingInner":0,"paddingOuter":0},"axis":null},"y":{"field":"v","type":"quantitative","scale":{"domain":[0,80],"nice":false,"zero":true,"range":[134.9,13.9]},"axis":null},"y2":{"field":"hi"}}},
    {"data":{"name":"barG"},"mark":{"type":"tick","orient":"horizontal","size":20,"thickness":1,"color":"black"},"encoding":{"x":{"field":"g","type":"nominal","scale":{"domain":["TLR4KO with GAPDH siRNA","TLR4KO with STAT3 siRNA"],"paddingInner":0,"paddingOuter":0},"axis":null},"y":{"field":"hi","type":"quantitative","scale":{"domain":[0,80],"nice":false,"zero":true,"range":[134.9,13.9]},"axis":null}}},
    {"data":{"name":"starG"},"mark":{"type":"text","text":"*","fontSize":13,"baseline":"middle","dy":3},"encoding":{"x":{"field":"g","type":"nominal","scale":{"domain":["TLR4KO with GAPDH siRNA","TLR4KO with STAT3 siRNA"],"paddingInner":0,"paddingOuter":0},"axis":null},"y":{"field":"y","type":"quantitative","scale":{"domain":[0,80],"nice":false,"zero":true,"range":[134.9,13.9]},"axis":null}}}
   ]},
  {"width":173,"height":132.9,"title":{"text":"H","dx":-51.7,"dy":9.5},
   "resolve":{"axis":{"x":"independent","y":"independent"}},
   "layer":[
    {"data":{"name":"phases"},"mark":{"type":"rule","color":"#333333","strokeWidth":1},"encoding":{"x":{"field":"start","type":"quantitative","scale":{"domain":[0,80],"nice":false,"zero":false},"axis":null},"x2":{"field":"end"},"y":{"datum":120,"type":"quantitative","scale":{"domain":[0,120],"nice":false,"zero":false,"range":[132.9,11.9]},"axis":null}}},
    {"data":{"name":"phases"},"mark":{"type":"text","baseline":"bottom","dy":-2},"encoding":{"x":{"field":"mid","type":"quantitative","scale":{"domain":[0,80],"nice":false,"zero":false},"axis":null},"y":{"datum":120,"type":"quantitative","scale":{"domain":[0,120],"nice":false,"zero":false,"range":[132.9,11.9]},"axis":null},"text":{"field":"phase"}}},
    {"data":{"name":"edp"},"mark":{"type":"rule","color":"black","strokeWidth":1},"encoding":{"x":{"field":"t","type":"quantitative","scale":{"domain":[0,80],"nice":false,"zero":false},"axis":{"values":[0,20,40,60,80],"title":null,"labelExpr":"datum.value == 80 ? '80 min' : datum.label","labelAlign":{"condition":{"test":"datum.value == 80","value":"left"},"value":"center"},"labelOffset":{"condition":{"test":"datum.value == 80","value":-5},"value":0},"tickSize":3,"labelPadding":3,"orient":"bottom"}},"y":{"field":"lo","type":"quantitative","scale":{"domain":[0,120],"nice":false,"zero":false,"range":[132.9,11.9]},"axis":{"values":[0,20,40,60,80,100,120],"title":"EDP (mmHg)","titlePadding":7,"tickSize":4,"labelPadding":2,"orient":"left"}},"y2":{"field":"hi"}}},
    {"data":{"name":"edp"},"mark":{"type":"tick","orient":"horizontal","size":7,"thickness":1,"color":"black"},"encoding":{"x":{"field":"t","type":"quantitative","scale":{"domain":[0,80],"nice":false,"zero":false},"axis":null},"y":{"field":"hi","type":"quantitative","scale":{"domain":[0,120],"nice":false,"zero":false,"range":[132.9,11.9]},"axis":null}}},
    {"data":{"name":"edp"},"mark":{"type":"tick","orient":"horizontal","size":7,"thickness":1,"color":"black"},"encoding":{"x":{"field":"t","type":"quantitative","scale":{"domain":[0,80],"nice":false,"zero":false},"axis":null},"y":{"field":"lo","type":"quantitative","scale":{"domain":[0,120],"nice":false,"zero":false,"range":[132.9,11.9]},"axis":null}}},
    {"data":{"name":"edp"},"mark":{"type":"line","color":"black","strokeWidth":1},"encoding":{"x":{"field":"t","type":"quantitative","scale":{"domain":[0,80],"nice":false,"zero":false},"axis":null},"y":{"field":"v","type":"quantitative","scale":{"domain":[0,120],"nice":false,"zero":false,"range":[132.9,11.9]},"axis":null},"detail":{"field":"g","type":"nominal"}}},
    {"data":{"name":"edp"},"mark":{"type":"point","shape":"circle","size":26,"filled":true,"stroke":"black","strokeWidth":1,"opacity":1},"encoding":{"x":{"field":"t","type":"quantitative","scale":{"domain":[0,80],"nice":false,"zero":false},"axis":null},"y":{"field":"v","type":"quantitative","scale":{"domain":[0,120],"nice":false,"zero":false,"range":[132.9,11.9]},"axis":null},"fill":{"field":"g","type":"nominal","scale":{"domain":["TLR4KO with GAPDH siRNA","TLR4KO with STAT3 siRNA"],"range":["#ffffff","#000000"]},"legend":null}}}
   ]},
  {"width":173.3,"height":132.9,"title":{"text":"I","dx":-58,"dy":10},
   "resolve":{"axis":{"x":"independent","y":"independent"}},
   "layer":[
    {"data":{"name":"barI"},"mark":{"type":"bar","width":25,"stroke":"black","strokeWidth":0.5},"encoding":{"x":{"field":"g","type":"nominal","scale":{"domain":["TLR4KO with GAPDH siRNA","TLR4KO with STAT3 siRNA"],"paddingInner":0,"paddingOuter":0},"axis":{"title":null,"labels":false,"ticks":true,"tickSize":4,"domain":true,"orient":"bottom"}},"y":{"field":"v","type":"quantitative","scale":{"domain":[0,120],"nice":false,"zero":true,"range":[132.9,11.9]},"axis":{"values":[0,20,40,60,80,100,120],"title":["EDP. at end reperfusion","(mmHg)"],"titlePadding":3,"titleLineHeight":10.5,"tickSize":4,"labelPadding":3,"orient":"left"}},"fill":{"field":"g","type":"nominal","scale":{"domain":["TLR4KO with GAPDH siRNA","TLR4KO with STAT3 siRNA"],"range":["#000000","#3d3d3d"]},"legend":null}}},
    {"data":{"name":"barI"},"transform":[{"filter":"datum.g == 'TLR4KO with STAT3 siRNA'"}],"mark":{"type":"bar","width":25,"strokeWidth":0,"fill":{"gradient":"linear","x1":0,"y1":0,"x2":0.3355,"y2":1.1878,"stops":[{"offset":0,"color":"#222"},{"offset":0.02,"color":"#222"},{"offset":0.035,"color":"#fff"},{"offset":0.05,"color":"#222"},{"offset":0.07,"color":"#222"},{"offset":0.085,"color":"#fff"},{"offset":0.1,"color":"#222"},{"offset":0.12,"color":"#222"},{"offset":0.135,"color":"#fff"},{"offset":0.15,"color":"#222"},{"offset":0.17,"color":"#222"},{"offset":0.185,"color":"#fff"},{"offset":0.2,"color":"#222"},{"offset":0.22,"color":"#222"},{"offset":0.235,"color":"#fff"},{"offset":0.25,"color":"#222"},{"offset":0.27,"color":"#222"},{"offset":0.285,"color":"#fff"},{"offset":0.3,"color":"#222"},{"offset":0.32,"color":"#222"},{"offset":0.335,"color":"#fff"},{"offset":0.35,"color":"#222"},{"offset":0.37,"color":"#222"},{"offset":0.385,"color":"#fff"},{"offset":0.4,"color":"#222"},{"offset":0.42,"color":"#222"},{"offset":0.435,"color":"#fff"},{"offset":0.45,"color":"#222"},{"offset":0.47,"color":"#222"},{"offset":0.485,"color":"#fff"},{"offset":0.5,"color":"#222"},{"offset":0.52,"color":"#222"},{"offset":0.535,"color":"#fff"},{"offset":0.55,"color":"#222"},{"offset":0.57,"color":"#222"},{"offset":0.585,"color":"#fff"},{"offset":0.6,"color":"#222"},{"offset":0.62,"color":"#222"},{"offset":0.635,"color":"#fff"},{"offset":0.65,"color":"#222"},{"offset":0.67,"color":"#222"},{"offset":0.685,"color":"#fff"},{"offset":0.7,"color":"#222"},{"offset":0.72,"color":"#222"},{"offset":0.735,"color":"#fff"},{"offset":0.75,"color":"#222"},{"offset":0.77,"color":"#222"},{"offset":0.785,"color":"#fff"},{"offset":0.8,"color":"#222"},{"offset":0.82,"color":"#222"},{"offset":0.835,"color":"#fff"},{"offset":0.85,"color":"#222"},{"offset":0.87,"color":"#222"},{"offset":0.885,"color":"#fff"},{"offset":0.9,"color":"#222"},{"offset":0.92,"color":"#222"},{"offset":0.935,"color":"#fff"},{"offset":0.95,"color":"#222"},{"offset":0.97,"color":"#222"},{"offset":0.985,"color":"#fff"},{"offset":1,"color":"#222"}]}},"encoding":{"x":{"field":"g","type":"nominal","scale":{"domain":["TLR4KO with GAPDH siRNA","TLR4KO with STAT3 siRNA"],"paddingInner":0,"paddingOuter":0},"axis":null},"y":{"field":"v","type":"quantitative","scale":{"domain":[0,120],"nice":false,"zero":true,"range":[132.9,11.9]},"axis":null}}},
    {"data":{"name":"barI"},"mark":{"type":"rule","color":"black","strokeWidth":1},"encoding":{"x":{"field":"g","type":"nominal","scale":{"domain":["TLR4KO with GAPDH siRNA","TLR4KO with STAT3 siRNA"],"paddingInner":0,"paddingOuter":0},"axis":null},"y":{"field":"v","type":"quantitative","scale":{"domain":[0,120],"nice":false,"zero":true,"range":[132.9,11.9]},"axis":null},"y2":{"field":"hi"}}},
    {"data":{"name":"barI"},"mark":{"type":"tick","orient":"horizontal","size":20,"thickness":1,"color":"black"},"encoding":{"x":{"field":"g","type":"nominal","scale":{"domain":["TLR4KO with GAPDH siRNA","TLR4KO with STAT3 siRNA"],"paddingInner":0,"paddingOuter":0},"axis":null},"y":{"field":"hi","type":"quantitative","scale":{"domain":[0,120],"nice":false,"zero":true,"range":[132.9,11.9]},"axis":null}}}
   ]}
]
}
